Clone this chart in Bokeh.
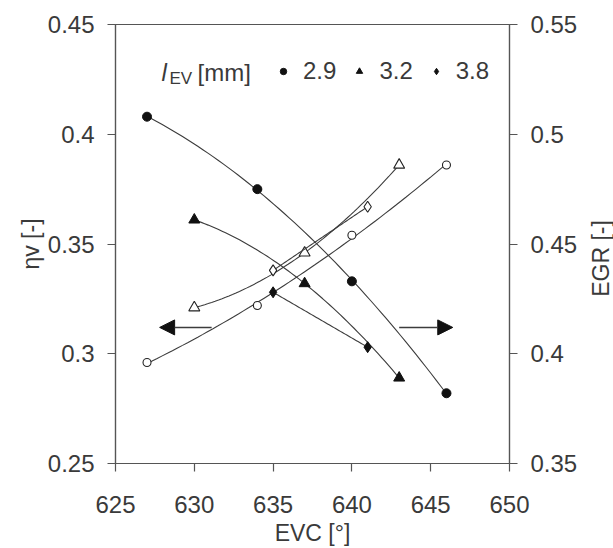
import math
import numpy as np
from bokeh.plotting import figure
from bokeh.models import (Range1d, LinearAxis, FixedTicker, CustomJSTickFormatter,
                          Arrow, NormalHead, Label, Legend, LegendItem)
from bokeh.embed import file_html
from bokeh.resources import INLINE

# ---- data ----
lev_labels = ["2.9", "3.2", "3.8"]

evc_29 = [627, 634, 640, 646]
evc_32 = [630, 637, 643]
evc_38 = [635, 641]

eta_29 = [0.296, 0.322, 0.354, 0.386]
eta_32 = [0.321, 0.346, 0.386]
eta_38 = [0.338, 0.367]

egr_29 = [0.508, 0.475, 0.433, 0.382]
egr_32 = [0.461, 0.432, 0.389]
egr_38 = [0.428, 0.403]

x_ticks = [625, 630, 635, 640, 645, 650]
y_ticks = [0.25, 0.30, 0.35, 0.40, 0.45]
y2_ticks = [0.35, 0.40, 0.45, 0.50, 0.55]

FONT = "Liberation Sans"
TXT = "#3a3a3a"
LINE = "#3c3c3c"

p = figure(width=613, height=548, output_backend="svg", toolbar_location=None,
           x_range=Range1d(625, 650), y_range=Range1d(0.25, 0.45),
           min_border_left=115, min_border_right=104, min_border_top=24,
           min_border_bottom=82)
p.extra_y_ranges = {"egr": Range1d(0.35, 0.55)}
p.grid.visible = False
p.outline_line_color = "#555555"
p.outline_line_width = 1.2
p.background_fill_color = "white"
p.border_fill_color = "white"

fmt = CustomJSTickFormatter(code="return String(Math.round(tick*100)/100);")

def style_axis(ax, ticks):
    ax.ticker = FixedTicker(ticks=ticks)
    ax.formatter = fmt
    ax.axis_line_color = "#555555"
    ax.axis_line_width = 1.2
    ax.major_tick_line_color = "#555555"
    ax.major_tick_line_width = 1.2
    ax.major_tick_out = 8
    ax.major_tick_in = 0
    ax.minor_tick_line_color = None
    ax.major_label_text_font = FONT
    ax.major_label_text_font_size = "24px"
    ax.major_label_text_color = TXT
    ax.major_label_standoff = 13
    ax.axis_label_text_font = FONT
    ax.axis_label_text_font_size = "23px"
    ax.axis_label_text_font_style = "normal"
    ax.axis_label_text_color = TXT
    ax.axis_label_standoff = 8

style_axis(p.xaxis[0], x_ticks)
style_axis(p.yaxis[0], y_ticks)
p.xaxis[0].axis_label = "EVC [°]"
p.xaxis[0].major_label_standoff = 24
p.xaxis[0].axis_label_standoff = 4
p.yaxis[0].axis_label = "ηv [-]"
p.yaxis[0].axis_label_standoff = 1

ax2 = LinearAxis(y_range_name="egr")
style_axis(ax2, y2_ticks)
p.add_layout(ax2, "right")

# right axis title, reading bottom to top, placed in the right side panel
egr_title = Label(x=600, y=258, x_units="canvas", y_units="canvas", text="EGR [-]",
                  angle=math.pi / 2, text_font=FONT, text_font_size="23px",
                  text_color=TXT, text_align="center", text_baseline="middle")
p.add_layout(egr_title, "right")

def trend(xs, ys, **kw):
    deg = min(2, len(xs) - 1)
    c = np.polyfit(xs, ys, deg)
    xx = np.linspace(min(xs), max(xs), 60)
    p.line(xx, np.polyval(c, xx), line_color=LINE, line_width=1.1, **kw)

# eta (open markers, left axis)
for xs, ys, m, s in [(evc_29, eta_29, "circle", 8), (evc_32, eta_32, "triangle", 11),
                     (evc_38, eta_38, "diamond", 11)]:
    trend(xs, ys)
    p.scatter(xs, ys, marker=m, size=s, fill_color="white", line_color="#222222",
              line_width=1.1)

# EGR (filled markers, right axis)
legend_items = []
for xs, ys, m, s, lab in [(evc_29, egr_29, "circle", 9, lev_labels[0]),
                          (evc_32, egr_32, "triangle", 11, lev_labels[1]),
                          (evc_38, egr_38, "diamond", 11, lev_labels[2])]:
    trend(xs, ys, y_range_name="egr")
    r = p.scatter(xs, ys, marker=m, size=s, fill_color="#111111", line_color="#111111",
                  y_range_name="egr")
    legend_items.append(LegendItem(label=lab, renderers=[r]))

# arrows
p.add_layout(Arrow(x_start=631.1, y_start=0.312, x_end=627.8, y_end=0.312,
                   line_color=LINE, line_width=1.5,
                   end=NormalHead(size=15, fill_color="#111111", line_color="#111111")))
p.add_layout(Arrow(x_start=643.0, y_start=0.312, x_end=646.4, y_end=0.312,
                   line_color=LINE, line_width=1.5,
                   end=NormalHead(size=15, fill_color="#111111", line_color="#111111")))

# legend title l_EV [mm]
ly = 442 - 51
p.add_layout(Label(x=46, y=ly, x_units="screen", y_units="screen", text="l",
                   text_font=FONT, text_font_style="italic", text_font_size="24px",
                   text_color=TXT, text_baseline="middle"))
p.add_layout(Label(x=54, y=ly - 6, x_units="screen", y_units="screen", text="EV",
                   text_font=FONT, text_font_size="17px",
                   text_color=TXT, text_baseline="middle"))
p.add_layout(Label(x=82, y=ly, x_units="screen", y_units="screen", text="[mm]",
                   text_font=FONT, text_font_size="24px",
                   text_color=TXT, text_baseline="middle"))

leg = Legend(items=legend_items, orientation="horizontal", location=(160, ly - 13),
             border_line_color=None, background_fill_alpha=0, padding=0, margin=0,
             spacing=15, glyph_width=16, glyph_height=20, label_standoff=12,
             label_text_font=FONT, label_text_font_size="24px", label_text_color=TXT,
             label_height=26)
p.add_layout(leg, "center")

open("out.html", "w").write(file_html(p, INLINE))
